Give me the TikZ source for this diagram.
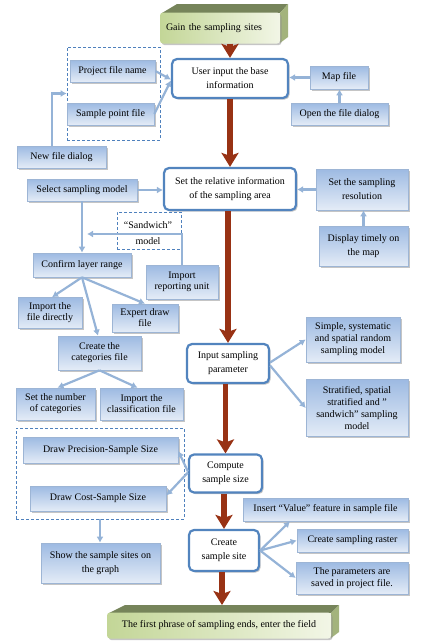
\documentclass[tikz,border=0pt]{standalone}
\usepackage{fontspec}
\setmainfont{Liberation Serif}
\usetikzlibrary{arrows.meta,shadows,calc}
\definecolor{btop}{HTML}{9DBAE2}
\definecolor{bbot}{HTML}{E4ECF7}
\definecolor{bbord}{HTML}{9DB5D5}
\definecolor{rbord}{HTML}{5284BE}
\definecolor{lacol}{HTML}{95B3D7}
\definecolor{bacol}{HTML}{983214}
\definecolor{dcol}{HTML}{4F81BD}
\definecolor{gfrontA}{HTML}{C3D697}
\definecolor{gfrontB}{HTML}{F2F6E6}
\definecolor{gtop}{HTML}{76845A}
\definecolor{gside}{HTML}{A3B37C}
\newcommand{\lsp}{\fontsize{10}{14}\selectfont}
\newcommand{\msp}{\fontsize{10}{12}\selectfont}
\begin{document}
\begin{tikzpicture}[x=1pt,y=-1pt,
  font=\fontsize{10}{11}\selectfont,
  shad/.style={drop shadow={shadow xshift=1.6pt,shadow yshift=-1.6pt,fill=black!45,opacity=0.5}},
  bbox/.style={draw=bbord, line width=0.6pt, top color=btop, bottom color=bbot, shad, align=center, inner sep=0pt},
  rbox/.style={draw=rbord, line width=2.2pt, fill=white, rounded corners=5pt, shad, align=center, inner sep=0pt},
  dbox/.style={draw=dcol, dash pattern=on 3pt off 2pt, line width=0.7pt, inner sep=0pt},
  la/.style={draw=lacol, line width=2.2pt, -{Latex[length=6pt,width=7pt]}},
  ba/.style={draw=bacol, line width=5.5pt, -{Stealth[length=14pt,width=17pt,inset=3pt]}},
  gface/.style={left color=gfrontA, right color=gfrontB, rounded corners=3pt, shad, inner sep=0pt}
]
\useasboundingbox (0,0) rectangle (425,643);

% dashed groups
\node[dbox, minimum width=93pt, minimum height=93pt] (dash1) at (113.5,93.5) {};
\node[dbox, minimum width=168pt, minimum height=91pt] (dash2) at (100,473.5) {};
\node[dbox, minimum width=64pt, minimum height=37pt] (sandw) at (149,230.5) {};
\node[align=center, inner sep=0pt, font=\fontsize{10}{15.5}\selectfont] (sandwtxt) at (148,233) {“Sandwich”\\model};

% top 3D box
\fill[gtop] (162,13) -- (177,4) -- (288,4) -- (280,13) -- cycle;
\fill[gside] (280,13) -- (288,4) -- (288,37) -- (280,43) -- cycle;
\node[gface, minimum width=120pt, minimum height=31pt, text width=108pt, inner xsep=6pt, align=left] (gain) at (220,28) {Gain the sampling sites};

% bottom 3D box
\fill[gtop] (109,613) -- (125,605) -- (339,605) -- (331,613) -- cycle;
\fill[gside] (331,613) -- (339,605) -- (339,632) -- (331,638) -- cycle;
\node[gface, minimum width=224pt, minimum height=26pt, align=center] (final) at (219,625.5) {The first phrase of sampling ends, enter the field};
\coordinate (finaltop) at (219,605);

% rounded main boxes
\node[rbox, minimum width=116pt, minimum height=39pt, font=\lsp] (user) at (230,78.5) {User input the base\\information};
\node[rbox, minimum width=132pt, minimum height=42pt, font=\lsp] (setrel) at (230,189) {Set the relative information\\of the sampling area};
\node[rbox, minimum width=82pt, minimum height=39pt, font=\lsp] (inputparam) at (228,363.5) {Input sampling\\parameter};
\node[rbox, minimum width=73pt, minimum height=38pt, font=\lsp] (compute) at (225.5,473.5) {Compute\\sample size};
\node[rbox, minimum width=70pt, minimum height=41pt, font=\lsp] (create) at (224,550.5) {Create\\sample site};

% blue boxes
\node[bbox, minimum width=85pt, minimum height=22pt] (projfile) at (112.5,71) {Project file name};
\node[bbox, minimum width=87pt, minimum height=22pt] (samplept) at (110.5,114) {Sample point file};
\node[bbox, minimum width=89pt, minimum height=22pt] (newfile) at (61.5,157) {New file dialog};
\node[bbox, minimum width=58pt, minimum height=23pt] (mapfile) at (339,77.5) {Map file};
\node[bbox, minimum width=97pt, minimum height=22pt] (openfile) at (339.5,114) {Open the file dialog};
\node[bbox, minimum width=110pt, minimum height=22pt] (selmodel) at (82,190) {Select sampling model};
\node[bbox, minimum width=92pt, minimum height=41pt, font=\lsp] (setres) at (362,189.5) {Set the sampling\\resolution};
\node[bbox, minimum width=89pt, minimum height=40pt, font=\lsp] (display) at (363.5,246) {Display timely on\\the map};
\node[bbox, minimum width=98pt, minimum height=24pt] (confirm) at (82,265) {Confirm layer range};
\node[bbox, minimum width=72pt, minimum height=34pt] (importrep) at (182,282) {Import\\reporting unit};
\node[bbox, minimum width=64pt, minimum height=31pt] (impdirect) at (50,313) {Import the\\file directly};
\node[bbox, minimum width=66pt, minimum height=28pt] (expert) at (145,318) {Expert draw\\file};
\node[bbox, minimum width=83pt, minimum height=34pt] (createcat) at (99.5,353) {Create the\\categories file};
\node[bbox, minimum width=79pt, minimum height=32pt] (setnum) at (55.5,404) {Set the number\\of categories};
\node[bbox, minimum width=83pt, minimum height=32pt] (impclass) at (141.5,404) {Import the\\classification file};
\node[bbox, minimum width=94pt, minimum height=45pt, font=\msp] (simple) at (353,339.5) {Simple, systematic\\and spatial random\\sampling model};
\node[bbox, minimum width=102pt, minimum height=57pt, font=\msp] (strat) at (357,408) {Stratified, spatial\\stratified and ”\\sandwich” sampling\\model};
\node[bbox, minimum width=155pt, minimum height=26pt] (precision) at (100.5,450) {Draw Precision-Sample Size};
\node[bbox, minimum width=136pt, minimum height=25pt] (cost) at (98,498.5) {Draw Cost-Sample Size};
\node[bbox, minimum width=119pt, minimum height=40pt, font=\lsp] (show) at (100.5,563) {Show the sample sites on\\the graph};
\node[bbox, minimum width=165pt, minimum height=23pt] (insert) at (325.5,509.5) {Insert “Value”\ feature in sample file};
\node[bbox, minimum width=111pt, minimum height=23pt] (raster) at (352.5,540.5) {Create sampling raster};
\node[bbox, minimum width=112pt, minimum height=32pt, font=\msp] (params) at (352,578) {The parameters are\\saved in project file.};

% light connectors
\draw[la] (projfile.east) -- ([yshift=-1pt]user.west);
\draw[la] (samplept.east) -- ([yshift=-2pt]user.west);
\draw[la] ([xshift=-9.5pt]newfile.north) |- (dash1.west);
\draw[la] (mapfile.west) -- (user.east |- mapfile.west);
\draw[la] (openfile.north) -- (openfile.north |- mapfile.south);
\draw[la] (selmodel.east) -- (setrel.west |- selmodel.east);
\draw[la] (setres.west) -- (setrel.east |- setres.west);
\draw[la] (display.north) -- (display.north |- setres.south);
\draw[la] (selmodel.south) -- (confirm.north);
\coordinate (swend) at (87,234);
\draw[la] (importrep.north) |- (swend);
\draw[la] (confirm.south) -- ([xshift=2pt]impdirect.north);
\draw[la] (confirm.south) -- (expert.north);
\draw[la] (confirm.south) -- ([xshift=-1.5pt]createcat.north);
\draw[la] (createcat.south) -- ([xshift=2pt]setnum.north);
\draw[la] (createcat.south) -- ([xshift=-4pt]impclass.north);
\draw[la] ([yshift=1pt]inputparam.east) -- (simple.west);
\draw[la] ([yshift=-2pt]inputparam.east) -- (strat.west);
\draw[la] ([yshift=2pt]compute.west) -- ([yshift=-1pt]precision.east);
\draw[la] ([yshift=1pt]compute.west) -- ([yshift=3pt]cost.east);
\draw[la] (dash2.south) -- (dash2.south |- show.north);
\draw[la] (create.east) -- ([xshift=-35.5pt]insert.south);
\draw[la] (create.east) -- (raster.west);
\draw[la] (create.east) -- (params.west);

% main flow arrows
\draw[ba] (user.north |- gain.south) -- (user.north);
\draw[ba] (user.south) -- (setrel.north);
\draw[ba] (inputparam.north |- setrel.south) -- (inputparam.north);
\draw[ba] (compute.north |- inputparam.south) -- (compute.north);
\draw[ba] (create.north |- compute.south) -- (create.north);
\draw[ba] ([xshift=-2pt]create.south) -- ([xshift=-2pt]create.south |- finaltop);
\end{tikzpicture}
\end{document}
